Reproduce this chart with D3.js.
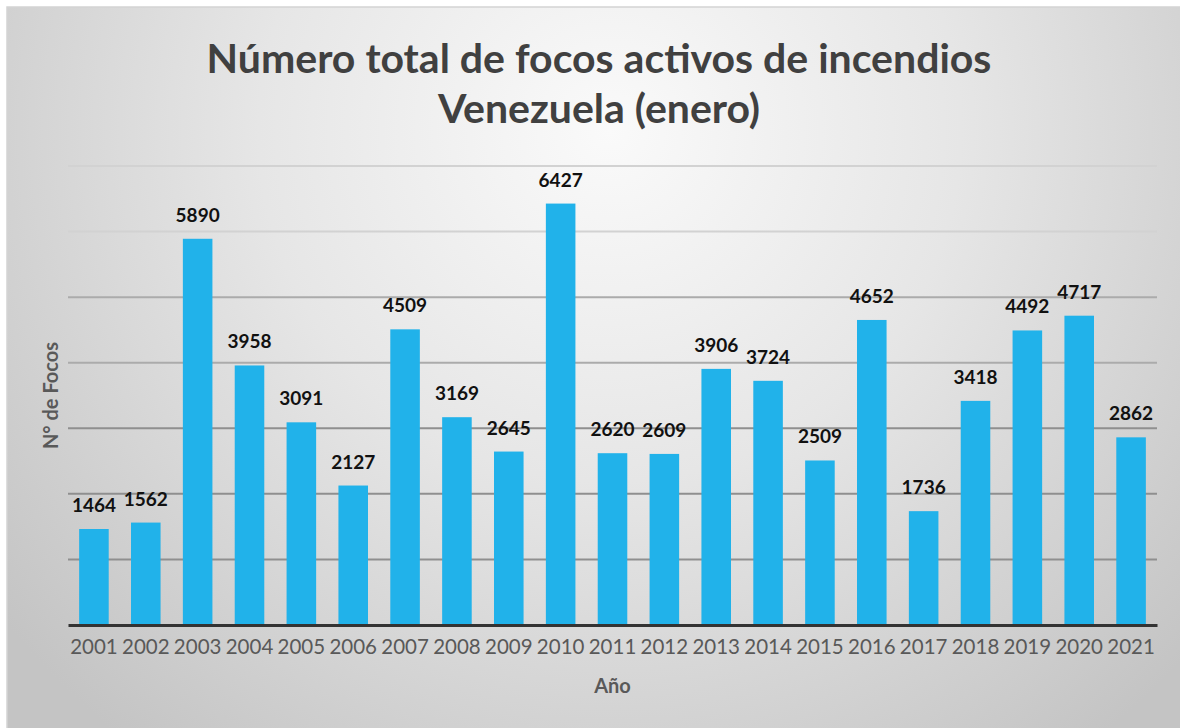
<!DOCTYPE html>
<html>
<head>
<meta charset="utf-8">
<script src="https://cdn.jsdelivr.net/npm/d3@7"></script>
<style>
  html, body { margin: 0; padding: 0; background: #fff; }
  svg { display: block; }
</style>
</head>
<body>
<div id="chart"></div>
<script>
// data
const years = ["2001","2002","2003","2004","2005","2006","2007","2008","2009","2010",
  "2011","2012","2013","2014","2015","2016","2017","2018","2019","2020","2021"];
const focos = [1464, 1562, 5890, 3958, 3091, 2127, 4509, 3169, 2645, 6427,
  2620, 2609, 3906, 3724, 2509, 4652, 1736, 3418, 4492, 4717, 2862];
const gridValues = [1000, 2000, 3000, 4000, 5000, 6000, 7000];
const titleLines = ["Número total de focos activos de incendios", "Venezuela (enero)"];

const W = 1180, H = 728;
const plot = { left: 68, right: 1157, top: 166, bottom: 625 };
const font = "Lato, 'Open Sans', sans-serif";

const svg = d3.select("#chart").append("svg")
  .attr("width", W).attr("height", H)
  .attr("viewBox", `0 0 ${W} ${H}`);

// background gradient like the excel chart area
const defs = svg.append("defs");
const grad = defs.append("radialGradient")
  .attr("id", "bg")
  .attr("gradientUnits", "userSpaceOnUse")
  .attr("cx", 610).attr("cy", 130).attr("r", 780);
grad.append("stop").attr("offset", 0).attr("stop-color", "#fafafa");
grad.append("stop").attr("offset", 0.45).attr("stop-color", "#e6e6e6");
grad.append("stop").attr("offset", 1).attr("stop-color", "#c4c4c4");

svg.append("rect")
  .attr("x", 7).attr("y", 7)
  .attr("width", W).attr("height", H)
  .attr("fill", "url(#bg)")
  .attr("stroke", "#d4d4d4")
  .attr("stroke-width", 1.5);

const x = d3.scaleBand()
  .domain(years)
  .range([plot.left, plot.right])
  .paddingInner(0.43)
  .paddingOuter(0.215);

const y = d3.scaleLinear()
  .domain([0, 7000])
  .range([plot.bottom, plot.top]);

// gridlines
svg.append("g")
  .selectAll("line")
  .data(gridValues)
  .join("line")
  .attr("x1", plot.left).attr("x2", plot.right)
  .attr("y1", d => y(d)).attr("y2", d => y(d))
  .attr("stroke", d => d >= 6000 ? "#d2d2d2" : (d >= 4000 ? "#ababab" : "#8f8f8f"))
  .attr("stroke-width", 2);

// bars
svg.append("g")
  .selectAll("rect")
  .data(focos)
  .join("rect")
  .attr("x", (d, i) => x(years[i]))
  .attr("y", d => y(d))
  .attr("width", x.bandwidth())
  .attr("height", d => y(0) - y(d))
  .attr("fill", "#21b2ea");

// value labels
svg.append("g")
  .selectAll("text")
  .data(focos)
  .join("text")
  .attr("x", (d, i) => x(years[i]) + x.bandwidth() / 2)
  .attr("y", d => y(d) - 17)
  .attr("text-anchor", "middle")
  .attr("font-family", font)
  .attr("font-weight", "bold")
  .attr("font-size", 19)
  .attr("fill", "#111")
  .text(d => d);

// x axis
const xAxis = svg.append("g")
  .attr("transform", `translate(0,${plot.bottom})`)
  .call(d3.axisBottom(x).tickSize(0).tickPadding(14));
xAxis.select(".domain").attr("stroke", "#333").attr("stroke-width", 3);
xAxis.selectAll("text")
  .attr("font-family", font)
  .attr("font-size", 20.5)
  .attr("fill", "#595959");

// axis titles
svg.append("text")
  .attr("x", (plot.left + plot.right) / 2)
  .attr("y", 693)
  .attr("text-anchor", "middle")
  .attr("font-family", font)
  .attr("font-weight", "bold")
  .attr("font-size", 20)
  .attr("fill", "#595959")
  .text("Año");

svg.append("text")
  .attr("transform", `translate(58,${(plot.top + plot.bottom) / 2}) rotate(-90)`)
  .attr("text-anchor", "middle")
  .attr("font-family", font)
  .attr("font-weight", "bold")
  .attr("font-size", 20)
  .attr("fill", "#595959")
  .text("N° de Focos");

// title
svg.append("g")
  .selectAll("text")
  .data(titleLines)
  .join("text")
  .attr("x", 599)
  .attr("y", (d, i) => 73 + i * 50)
  .attr("text-anchor", "middle")
  .attr("font-family", font)
  .attr("font-weight", "bold")
  .attr("font-size", 41)
  .attr("fill", "#404040")
  .text(d => d);
</script>
</body>
</html>
